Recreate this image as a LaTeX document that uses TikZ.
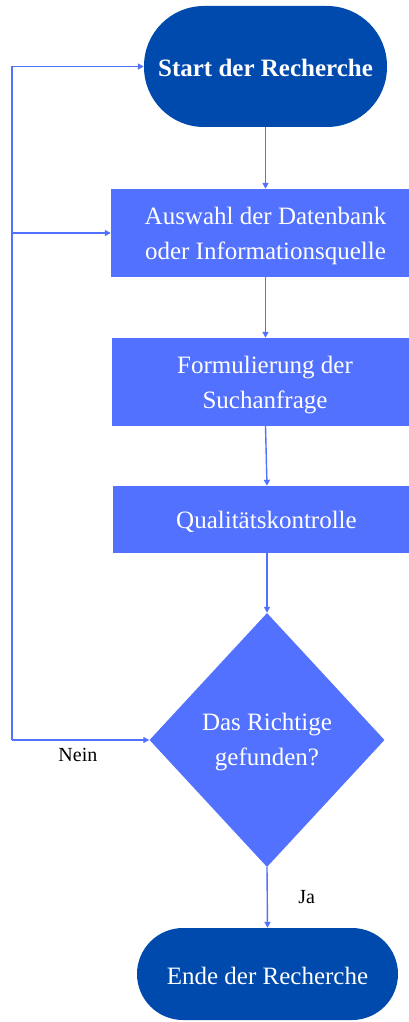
\documentclass[tikz,border=0pt]{standalone}
\usepackage{fontspec}
\setmainfont{Liberation Serif}
\usetikzlibrary{shapes.geometric,arrows.meta}
\definecolor{darkblue}{HTML}{004AAD}
\definecolor{lightblue}{HTML}{5271FF}
\tikzset{
  terminal/.style={fill=darkblue,text=white,rounded corners=#1,inner sep=0pt,align=center,
    font=\fontsize{25}{35}\selectfont},
  stepbox/.style={fill=lightblue,text=white,inner sep=0pt,align=center,
    font=\fontsize{25}{35}\selectfont},
  decision/.style={diamond,fill=lightblue,text=white,inner sep=0pt,align=center,
    font=\fontsize{25}{35}\selectfont},
  arr/.style={draw=lightblue,line width=1.4pt,-{Triangle[length=6pt,width=6pt]}},
  plain/.style={draw=lightblue,line width=1.4pt},
  lbl/.style={font=\fontsize{20}{24}\selectfont,text=black},
  txt/.style={text=white,align=center,font=\fontsize{25}{35}\selectfont}
}
\begin{document}
\begin{tikzpicture}[x=1pt,y=-1pt]
\useasboundingbox (0,0) rectangle (409,1022);
\clip (0,0) rectangle (409,1022);
\node[terminal=60pt,minimum width=243pt,minimum height=121pt] (start) at (265.5,66.5) {};
\node[txt,font=\fontsize{25}{35}\selectfont\bfseries] (starttxt) at (265.5,68) {Start der Recherche};
\node[stepbox,minimum width=308pt,minimum height=88pt] (box1) at (265,233) {};
\node[txt] (box1txt) at (265.5,236) {Auswahl der Datenbank\\oder Informationsquelle};
\node[stepbox,minimum width=306pt,minimum height=88pt] (box2) at (265,382) {};
\node[txt] (box2txt) at (265,385) {Formulierung der\\Suchanfrage};
\node[stepbox,minimum width=307pt,minimum height=67pt] (box3) at (266.5,519.5) {};
\node[txt] (box3txt) at (266.5,521.5) {Qualitätskontrolle};
\node[decision,minimum width=235pt,minimum height=254pt] (dia) at (267,740) {};
\node[txt] (diatxt) at (267,742) {Das Richtige\\gefunden?};
\node[terminal=46pt,minimum width=261pt,minimum height=92pt] (end) at (267.5,974) {};
\node[txt] (endtxt) at (267.5,976) {Ende der Recherche};
\coordinate (loopx) at (12,0);
% main flow
\draw[arr] (start.south) -- (start.south |- box1.north);
\draw[arr] (start.south |- box1.south) -- (start.south |- box2.north);
\draw[arr] (start.south |- box2.south) -- (dia.north |- box3.north);
\draw[arr] (dia.north |- box3.south) -- (dia.north);
\draw[arr] (dia.south) -- node[lbl,right=27pt,pos=0.5] (ja) {Ja} (end.north);
% loop back
\draw[plain] (dia.west -| loopx) -- (start.west -| loopx);
\draw[arr] (dia.west -| loopx) -- node[lbl,below=4pt,pos=0.48] (nein) {Nein} (dia.west);
\draw[arr] (start.west -| loopx) -- (start.west);
\draw[arr] (box1.west -| loopx) -- (box1.west);
\end{tikzpicture}
\end{document}
